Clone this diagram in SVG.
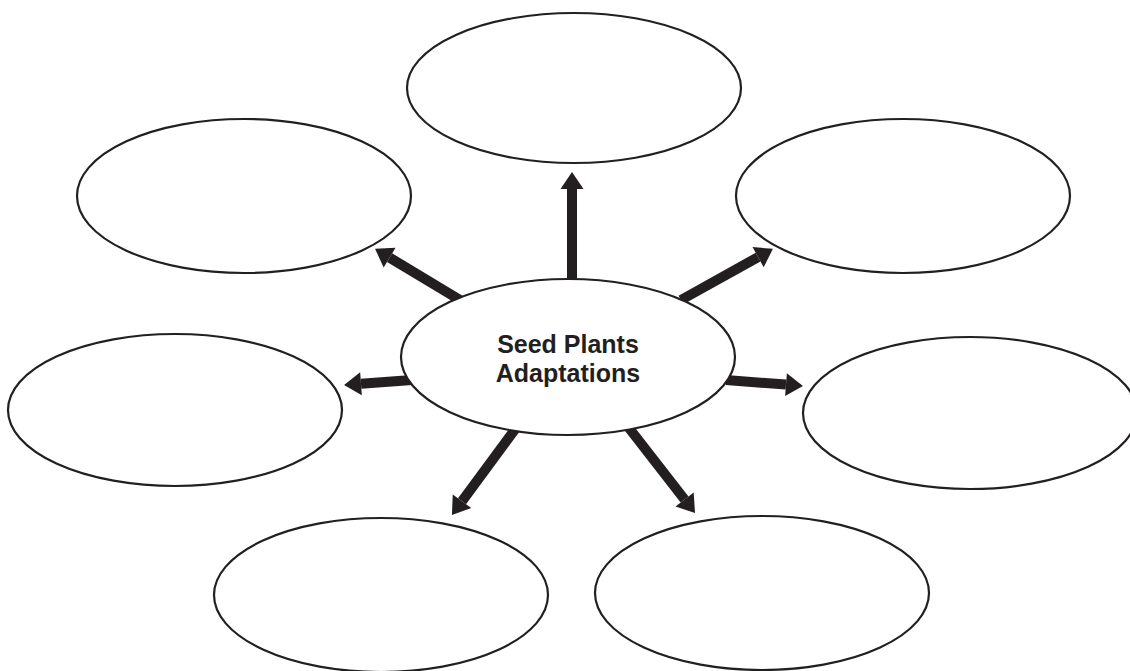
<svg xmlns="http://www.w3.org/2000/svg" width="1130" height="671" viewBox="0 0 1130 671">
  <style>
    .bubble { fill: #ffffff; stroke: #231f20; stroke-width: 2.2; }
    .arrow { stroke: #231f20; stroke-width: 10; fill: none; marker-end: url(#head); }
    .title { font-family: "Liberation Sans", Arial, sans-serif; font-weight: bold; font-size: 25px; fill: #231f20; text-anchor: middle; }
  </style>
  <defs>
    <marker id="head" markerUnits="userSpaceOnUse" markerWidth="20" markerHeight="26" viewBox="0 -13 18 26" refX="0" refY="0" orient="auto">
      <path d="M0,-11.5 L17,0 L0,11.5 Z" fill="#231f20"/>
    </marker>
  </defs>
  <rect width="1130" height="671" fill="#ffffff"/>
  <g id="connectors">
    <line class="arrow" x1="572" y1="284" x2="572" y2="189"/>
    <line class="arrow" x1="460" y1="300" x2="389.6" y2="257.6"/>
    <line class="arrow" x1="681" y1="300" x2="758.1" y2="257.1"/>
    <line class="arrow" x1="412" y1="380" x2="361" y2="383.7"/>
    <line class="arrow" x1="726" y1="380" x2="786" y2="384.6"/>
    <line class="arrow" x1="516" y1="428" x2="462" y2="501.3"/>
    <line class="arrow" x1="629" y1="428" x2="684.6" y2="499.5"/>
  </g>
  <g id="node-top"><ellipse class="bubble" cx="574" cy="88" rx="167" ry="75"/></g>
  <g id="node-upper-left"><ellipse class="bubble" cx="244" cy="196" rx="167" ry="77"/></g>
  <g id="node-upper-right"><ellipse class="bubble" cx="903" cy="196" rx="167" ry="77"/></g>
  <g id="node-left"><ellipse class="bubble" cx="175" cy="410" rx="167" ry="76"/></g>
  <g id="node-right"><ellipse class="bubble" cx="970" cy="413" rx="167" ry="76"/></g>
  <g id="node-bottom-left"><ellipse class="bubble" cx="381" cy="595" rx="167" ry="77"/></g>
  <g id="node-bottom-right"><ellipse class="bubble" cx="762" cy="593" rx="167" ry="77"/></g>
  <g id="node-center">
    <ellipse class="bubble" cx="568" cy="357" rx="167" ry="78"/>
    <text class="title" x="568" y="353">Seed Plants</text>
    <text class="title" x="568" y="382">Adaptations</text>
  </g>
</svg>
